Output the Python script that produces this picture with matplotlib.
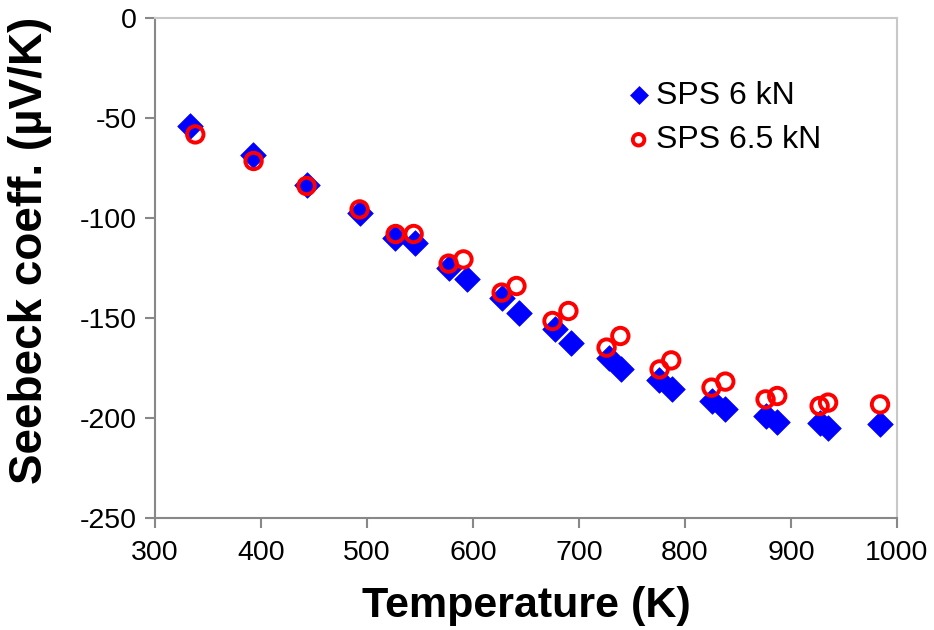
import matplotlib
matplotlib.use("Agg")
from matplotlib import pyplot as plt

plt.rcParams['font.family'] = ['Liberation Sans', 'DejaVu Sans']
plt.rcParams['axes.unicode_minus'] = False

# SPS 6 kN (blue diamonds)
temp_6 = [333, 392, 443, 493, 526, 545, 577, 594, 627, 643, 677, 692,
          728, 740, 775, 788, 825, 838, 876, 887, 927, 935, 984]
seeb_6 = [-54, -68.7, -83.5, -97.3, -109.8, -112.3, -124.8, -130.7, -139.8, -147.3,
          -155.7, -162.3, -169.8, -175.7, -181, -185.5, -191.5, -195.7, -199, -201.8,
          -202.3, -204.8, -202.8]

# SPS 6.5 kN (red open circles)
temp_65 = [338, 393, 443, 493, 527, 544, 577, 591, 627, 641, 675, 690,
           726, 739, 776, 787, 825, 838, 876, 887, 927, 935, 984]
seeb_65 = [-58.2, -71.5, -84, -95.7, -108, -108, -122.8, -120.7, -137.3, -134,
           -151.5, -146.5, -164.8, -159, -175.7, -171.2, -184.8, -181.8, -190.7, -189,
           -194, -192.3, -193.2]

x_ticks = [300, 400, 500, 600, 700, 800, 900, 1000]
y_ticks = [0, -50, -100, -150, -200, -250]

fig = plt.figure(figsize=(9.34, 6.30), dpi=100)
ax = fig.add_axes([155/934, 1-518/630, (897-155)/934, (518-18)/630])

ax.scatter(temp_6, seeb_6, marker='D', s=170, color='#0000ff', edgecolors='#0000ff',
           linewidths=0.5, label='SPS 6 kN', zorder=3)
ax.scatter(temp_65, seeb_65, marker='o', s=140, facecolors='none', edgecolors='#ff0000',
           linewidths=2.8, label='SPS 6.5 kN', zorder=4)

ax.set_xlim(300, 1000)
ax.set_ylim(-250, 0)
ax.set_xticks(x_ticks)
ax.set_yticks(y_ticks)
ax.tick_params(labelsize=20.5, length=7, width=1.5, color='#888888', direction='out')
ax.tick_params(axis='x', pad=9)
ax.tick_params(axis='y', pad=6)

for s in ['left', 'bottom']:
    ax.spines[s].set_color('#888888')
    ax.spines[s].set_linewidth(1.5)
for s in ['top', 'right']:
    ax.spines[s].set_color('#c8c8c8')
    ax.spines[s].set_linewidth(1.5)

ax.set_xlabel('Temperature (K)', fontsize=31, fontweight='bold')
ax.set_ylabel('Seebeck coeff. (µV/K)', fontsize=33, fontweight='bold')
ax.xaxis.set_label_coords(0.5, -0.135)
ax.yaxis.set_label_coords(-0.139, 0.535)

leg = ax.legend(loc='upper left', bbox_to_anchor=(0.613, 0.9), frameon=False,
                fontsize=23, handletextpad=0.05, labelspacing=0.45, handlelength=1.0,
                borderaxespad=0, markerscale=0.7)

fig.savefig('out.png', dpi=100)
